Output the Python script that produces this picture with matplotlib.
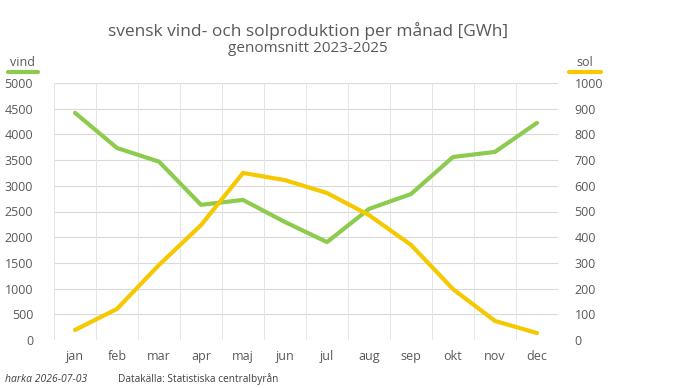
import numpy as np
import matplotlib
matplotlib.use("Agg")
import matplotlib.pyplot as plt

plt.rcParams['font.family'] = ['Open Sans', 'DejaVu Sans']

months = ['jan', 'feb', 'mar', 'apr', 'maj', 'jun', 'jul', 'aug', 'sep', 'okt', 'nov', 'dec']
vind = [4420, 3735, 3470, 2630, 2725, 2295, 1905, 2550, 2840, 3560, 3660, 4225]
sol = [39, 121, 292, 447, 650, 622, 572, 486, 370, 198, 74, 27]

vind_ticks = np.arange(0, 5001, 500)
sol_ticks = np.arange(0, 1001, 100)

green = '#8CCB4E'
yellow = '#F5C800'
text_col = '#595959'
grid_col = '#D9D9D9'

fig = plt.figure(figsize=(7, 3.88), dpi=100)
ax = fig.add_axes([54 / 700, 1 - 340 / 388, 504 / 700, 257 / 388])
ax2 = ax.twinx()

x = np.arange(len(months))
ax.plot(x, vind, color=green, lw=3, solid_capstyle='round', zorder=3)
ax2.plot(x, sol, color=yellow, lw=3, solid_capstyle='round', zorder=3)

ax.set_xlim(-0.5, 11.5)
ax.set_ylim(0, 5000)
ax2.set_ylim(0, 1000)
ax.set_yticks(vind_ticks)
ax2.set_yticks(sol_ticks)
ax.set_xticks(x)
ax.set_xticklabels(months)

# rutnät: vågrätt vid y-ticks, lodrätt mellan månaderna
for v in vind_ticks:
    ax.axhline(v, color=grid_col, lw=0.8, zorder=0)
for b in np.arange(-0.5, 12, 1):
    ax.axvline(b, color='#E6E6E6', lw=0.7, zorder=0)

for a in (ax, ax2):
    for s in a.spines.values():
        s.set_visible(False)
    a.tick_params(length=0, colors=text_col, labelsize=9)
ax.tick_params(axis='y', pad=15)
ax2.tick_params(axis='y', pad=12)
ax.tick_params(axis='x', pad=7)

fig.text(308 / 700, 1 - 31 / 388, 'svensk vind- och solproduktion per månad [GWh]',
         ha='center', va='center', fontsize=12.5, color=text_col)
fig.text(308 / 700, 1 - 48 / 388, 'genomsnitt 2023-2025',
         ha='center', va='center', fontsize=11, color=text_col)

fig.text(23 / 700, 1 - 62 / 388, 'vind', ha='center', va='center', fontsize=9, color=text_col)
fig.lines.append(plt.Line2D([8 / 700, 38 / 700], [1 - 72 / 388] * 2, transform=fig.transFigure,
                            color=green, lw=3, solid_capstyle='round'))
fig.text(585 / 700, 1 - 62 / 388, 'sol', ha='center', va='center', fontsize=9, color=text_col)
fig.lines.append(plt.Line2D([569 / 700, 601 / 700], [1 - 72 / 388] * 2, transform=fig.transFigure,
                            color=yellow, lw=3, solid_capstyle='round'))

fig.text(5 / 700, 1 - 379 / 388, 'harka 2026-07-03', ha='left', va='center',
         fontsize=7.5, style='italic', color='#404040')
fig.text(118 / 700, 1 - 379 / 388, 'Datakälla: Statistiska centralbyrån', ha='left', va='center',
         fontsize=7.3, color='#404040')

fig.savefig('out.png', dpi=100)
